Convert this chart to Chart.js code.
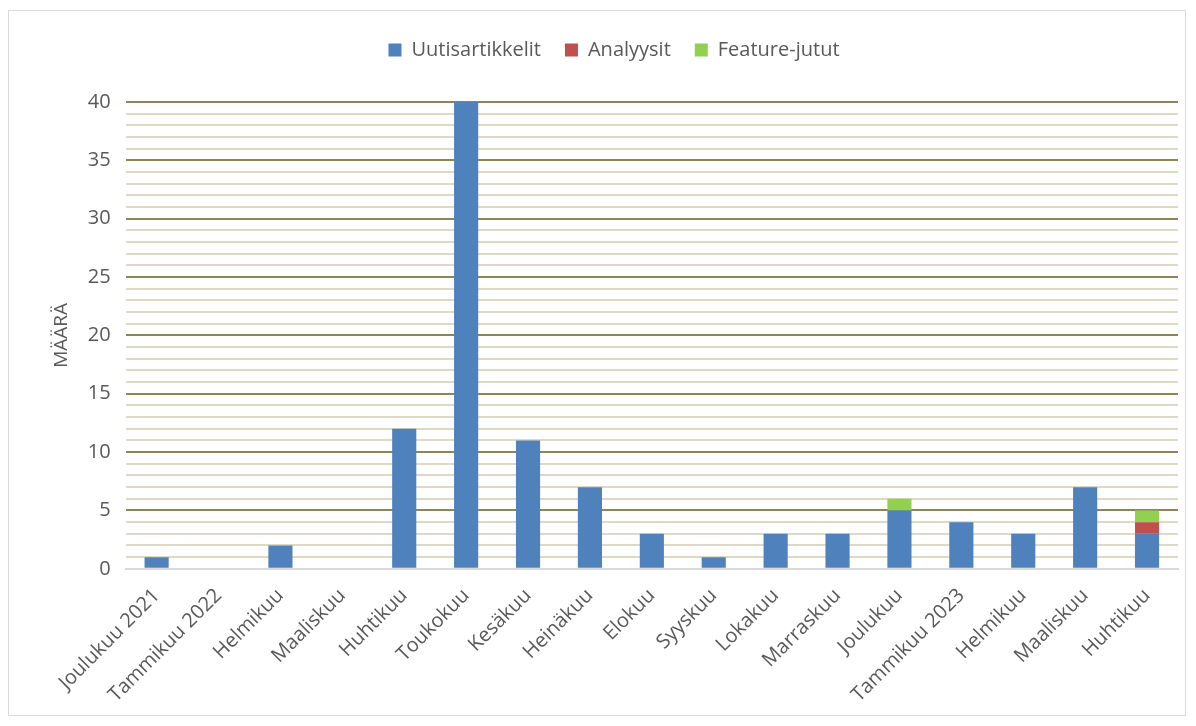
<!DOCTYPE html>
<html lang="fi">
<head>
    <meta charset="UTF-8">
    <title>Artikkelit kuukausittain</title>
    <script src="https://cdn.jsdelivr.net/npm/chart.js"></script>
    <style>
        body { margin: 0; background: #fff; }
        #kehys {
            position: absolute; left: 8px; top: 10px;
            width: 1178px; height: 706px;
            border: 1px solid #d9d9d9; box-sizing: border-box;
        }
        #wrap { position: absolute; left: 0; top: 0; width: 1196px; height: 726px; }
    </style>
</head>
<body>
    <div id="kehys"></div>
    <div id="wrap"><canvas id="myChart" width="1196" height="726"></canvas></div>

<script>
    // Kuukaudet
    const kuukaudet = ['Joulukuu 2021', 'Tammikuu 2022', 'Helmikuu', 'Maaliskuu', 'Huhtikuu', 'Toukokuu',
        'Kesäkuu', 'Heinäkuu', 'Elokuu', 'Syyskuu', 'Lokakuu', 'Marraskuu', 'Joulukuu',
        'Tammikuu 2023', 'Helmikuu', 'Maaliskuu', 'Huhtikuu'];

    // Sarjat
    const uutiset  = [1, 0, 2, 0, 12, 40, 11, 7, 3, 1, 3, 3, 5, 4, 3, 7, 3];
    const analyysit = [0, 0, 0, 0, 0, 0, 0, 0, 0, 0, 0, 0, 0, 0, 0, 0, 1];
    const featuret = [0, 0, 0, 0, 0, 0, 0, 0, 0, 0, 0, 0, 1, 0, 0, 0, 1];

    const fontti = "'Open Sans', 'Liberation Sans', sans-serif";
    const harmaa = '#595959';

    // lisää väliä selitteen alle
    const selitevali = {
        id: 'selitevali',
        beforeInit(chart) {
            const fit = chart.legend.fit;
            chart.legend.fit = function () {
                fit.bind(chart.legend)();
                this.height += 32;
            };
        }
    };

    new Chart(document.getElementById('myChart'), {
        type: 'bar',
        data: {
            labels: kuukaudet,
            datasets: [
                { label: 'Uutisartikkelit', data: uutiset, backgroundColor: '#4f81bd' },
                { label: 'Analyysit', data: analyysit, backgroundColor: '#c0504d' },
                { label: 'Feature-jutut', data: featuret, backgroundColor: '#92d050' }
            ]
        },
        plugins: [selitevali],
        options: {
            responsive: false,
            animation: false,
            devicePixelRatio: 1,
            layout: { padding: { left: 50, right: 18, top: 16, bottom: 12 } },
            datasets: { bar: { categoryPercentage: 0.78, barPercentage: 0.5 } },
            plugins: {
                legend: {
                    position: 'top',
                    labels: {
                        boxWidth: 13, boxHeight: 13, padding: 24,
                        color: harmaa,
                        font: { family: fontti, size: 20 }
                    }
                },
                tooltip: { enabled: false }
            },
            scales: {
                x: {
                    stacked: true,
                    grid: { display: false },
                    border: { color: '#d9d9d9', width: 2 },
                    ticks: {
                        color: harmaa, maxRotation: 45, minRotation: 45, padding: 7,
                        font: { family: fontti, size: 20 }
                    }
                },
                y: {
                    stacked: true,
                    min: 0, max: 40,
                    border: { display: false },
                    grid: {
                        drawTicks: false,
                        lineWidth: 2,
                        color: (c) => c.tick.value === 0 ? '#d9d9d9' : (c.tick.value % 5 === 0 ? '#8e8652' : '#ddd9c4')
                    },
                    ticks: {
                        stepSize: 1, padding: 15, autoSkip: false,
                        color: harmaa,
                        font: { family: fontti, size: 20 },
                        callback: (v) => v % 5 === 0 ? v : ''
                    },
                    title: {
                        display: true, text: 'MÄÄRÄ', color: harmaa,
                        padding: 0,
                        font: { family: fontti, size: 19 }
                    }
                }
            }
        }
    });
</script>
</body>
</html>
